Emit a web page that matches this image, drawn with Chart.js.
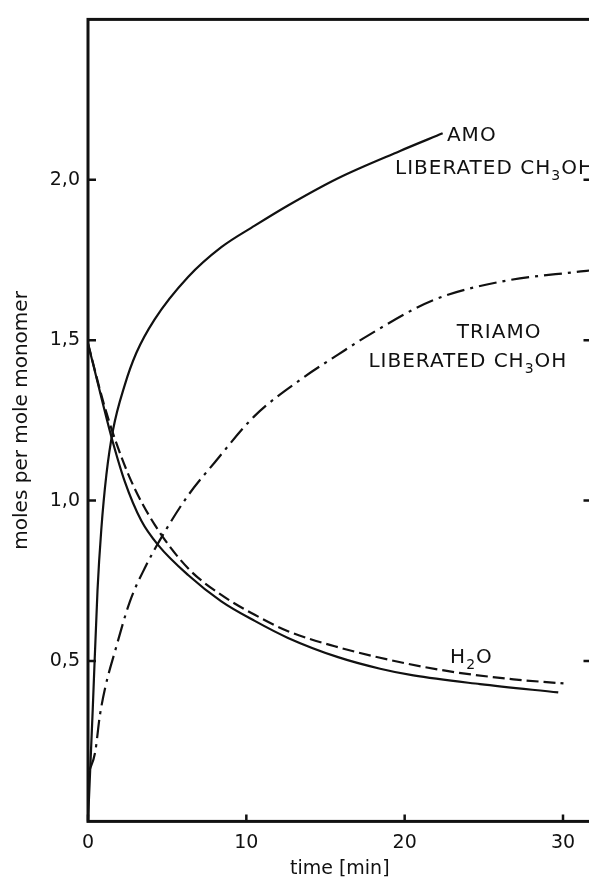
<!DOCTYPE html>
<html>
<head>
<meta charset="utf-8">
<script src="https://cdn.jsdelivr.net/npm/chart.js@4.4.0/dist/chart.umd.min.js"></script>
<style>
  html, body { margin: 0; padding: 0; background: #fff; overflow: hidden; }
  #wrap { width: 600px; height: 886px; }
</style>
</head>
<body>
<div id="wrap"><canvas id="chart" width="600" height="886"></canvas></div>
<script>
const amoTime = [0, 0.3, 0.6, 0.84, 1.16, 1.58, 2.32, 3.05, 4.21, 6.32, 8.42, 10.53, 12.63, 15.79, 19.71, 22.4];
const amoMeOH = [0, 0.35, 0.72, 0.91, 1.08, 1.22, 1.36, 1.46, 1.565, 1.697, 1.79, 1.857, 1.92, 2.005, 2.09, 2.145];

const amoWaterTime = [0, 0.95, 1.47, 2.32, 3.37, 4.42, 6.32, 8.42, 10.53, 12.63, 15.79, 18.45, 20.55, 24.76, 29.7];
const amoWater = [1.49, 1.3, 1.2, 1.06, 0.937, 0.862, 0.768, 0.686, 0.625, 0.572, 0.512, 0.476, 0.455, 0.428, 0.402];

const triamoWaterTime = [0, 0.95, 1.68, 2.74, 4.21, 6.32, 8.42, 10.53, 12.63, 15.58, 18.45, 22.66, 26.87, 30.03];
const triamoWater = [1.49, 1.31, 1.195, 1.06, 0.925, 0.789, 0.706, 0.644, 0.593, 0.546, 0.51, 0.469, 0.443, 0.43];

const triamoTime = [0.1, 0.45, 0.75, 1.1, 1.71, 2.65, 3.58, 4.84, 6.32, 8.0, 10.53, 13.5, 15.79, 17.6, 21.81, 26.03, 30.87, 31.8];
const triamoMeOH = [0.16, 0.215, 0.33, 0.42, 0.531, 0.686, 0.789, 0.902, 1.016, 1.119, 1.264, 1.38, 1.455, 1.512, 1.625, 1.682, 1.713, 1.718];

const xTickValues = [0, 10, 20, 30];
const yTickValues = [0.5, 1.0, 1.5, 2.0];

const curveLabels = [
  { x: 22.67, y: 2.12, parts: [["AMO", false]] },
  { x: 19.39, y: 2.018, parts: [["LIBERATED CH", false], ["3", true], ["OH", false]] },
  { x: 23.29, y: 1.506, parts: [["TRIAMO", false]] },
  { x: 17.71, y: 1.417, parts: [["LIBERATED CH", false], ["3", true], ["OH", false]] },
  { x: 22.87, y: 0.494, parts: [["H", false], ["2", true], ["O", false]] },
];

const INK = "#111";
const FONT = '"DejaVu Sans", sans-serif';

function toPoints(times, values) {
  return times.map((t, i) => ({ x: t, y: values[i] }));
}

function curve(label, times, values, dash) {
  return {
    label,
    data: toPoints(times, values),
    showLine: true,
    borderColor: INK,
    backgroundColor: INK,
    borderWidth: 2.2,
    borderDash: dash,
    pointRadius: 0,
    cubicInterpolationMode: "monotone",
    fill: false,
  };
}

function drawChem(ctx, parts, x, y, size) {
  let cx = x;
  parts.forEach(([text, sub]) => {
    ctx.font = `${sub ? Math.round(size * 0.72) : size}px ${FONT}`;
    ctx.fillText(text, cx, sub ? y + size * 0.3 : y);
    cx += ctx.measureText(text).width;
  });
}

const framePlugin = {
  id: "frame",
  beforeDatasetsDraw(chart) {
    const { ctx, chartArea: a, scales } = chart;
    ctx.save();
    ctx.strokeStyle = INK;
    ctx.lineWidth = 3;
    ctx.strokeRect(a.left, a.top, a.right - a.left, a.bottom - a.top);
    ctx.lineWidth = 2.5;
    ctx.beginPath();
    scales.y.ticks.forEach((t) => {
      const py = scales.y.getPixelForValue(t.value);
      ctx.moveTo(a.left, py);
      ctx.lineTo(a.left + 8, py);
      ctx.moveTo(a.right, py);
      ctx.lineTo(a.right - 8, py);
    });
    scales.x.ticks.forEach((t) => {
      const px = scales.x.getPixelForValue(t.value);
      ctx.moveTo(px, a.bottom);
      ctx.lineTo(px, a.bottom - 7);
    });
    ctx.stroke();
    ctx.restore();
  },
  afterDatasetsDraw(chart) {
    const { ctx, scales } = chart;
    ctx.save();
    ctx.fillStyle = INK;
    ctx.textBaseline = "alphabetic";
    ctx.textAlign = "left";
    ctx.letterSpacing = "1px";
    curveLabels.forEach((l) => {
      drawChem(ctx, l.parts, scales.x.getPixelForValue(l.x), scales.y.getPixelForValue(l.y), 20);
    });
    ctx.restore();
  },
};

new Chart(document.getElementById("chart"), {
  type: "scatter",
  data: {
    datasets: [
      curve("AMO liberated CH3OH", amoTime, amoMeOH, []),
      curve("H2O (AMO)", amoWaterTime, amoWater, []),
      curve("H2O (TRIAMO)", triamoWaterTime, triamoWater, [12, 5]),
      curve("TRIAMO liberated CH3OH", triamoTime, triamoMeOH, [18, 6, 3, 6]),
    ],
  },
  options: {
    responsive: false,
    animation: false,
    devicePixelRatio: 1,
    layout: { padding: { top: 15, right: 8.5, left: 0, bottom: 0 } },
    plugins: {
      legend: { display: false },
      tooltip: { enabled: false },
    },
    scales: {
      x: {
        type: "linear",
        min: 0,
        max: 31.8,
        afterBuildTicks: (s) => { s.ticks = xTickValues.map((v) => ({ value: v })); },
        afterFit: (s) => { s.height = 64.6; },
        grid: { display: false, drawTicks: false },
        border: { display: false },
        ticks: {
          color: INK,
          padding: 10,
          maxRotation: 0,
          font: { family: FONT, size: 19 },
          callback: (v) => String(v),
        },
        title: {
          display: true,
          text: "time [min]",
          color: INK,
          font: { family: FONT, size: 19 },
          padding: { top: 0, bottom: 6 },
        },
      },
      y: {
        type: "linear",
        min: 0,
        max: 2.5,
        afterBuildTicks: (s) => { s.ticks = yTickValues.map((v) => ({ value: v })); },
        afterFit: (s) => { s.width = 88; },
        grid: { display: false, drawTicks: false },
        border: { display: false },
        ticks: {
          color: INK,
          padding: 8,
          font: { family: FONT, size: 19 },
          callback: (v) => Number(v).toFixed(1).replace(".", ","),
        },
        title: {
          display: true,
          text: "moles per mole monomer",
          color: INK,
          font: { family: FONT, size: 20 },
          padding: { top: 10, bottom: 0 },
        },
      },
    },
  },
  plugins: [framePlugin],
});
</script>
</body>
</html>
